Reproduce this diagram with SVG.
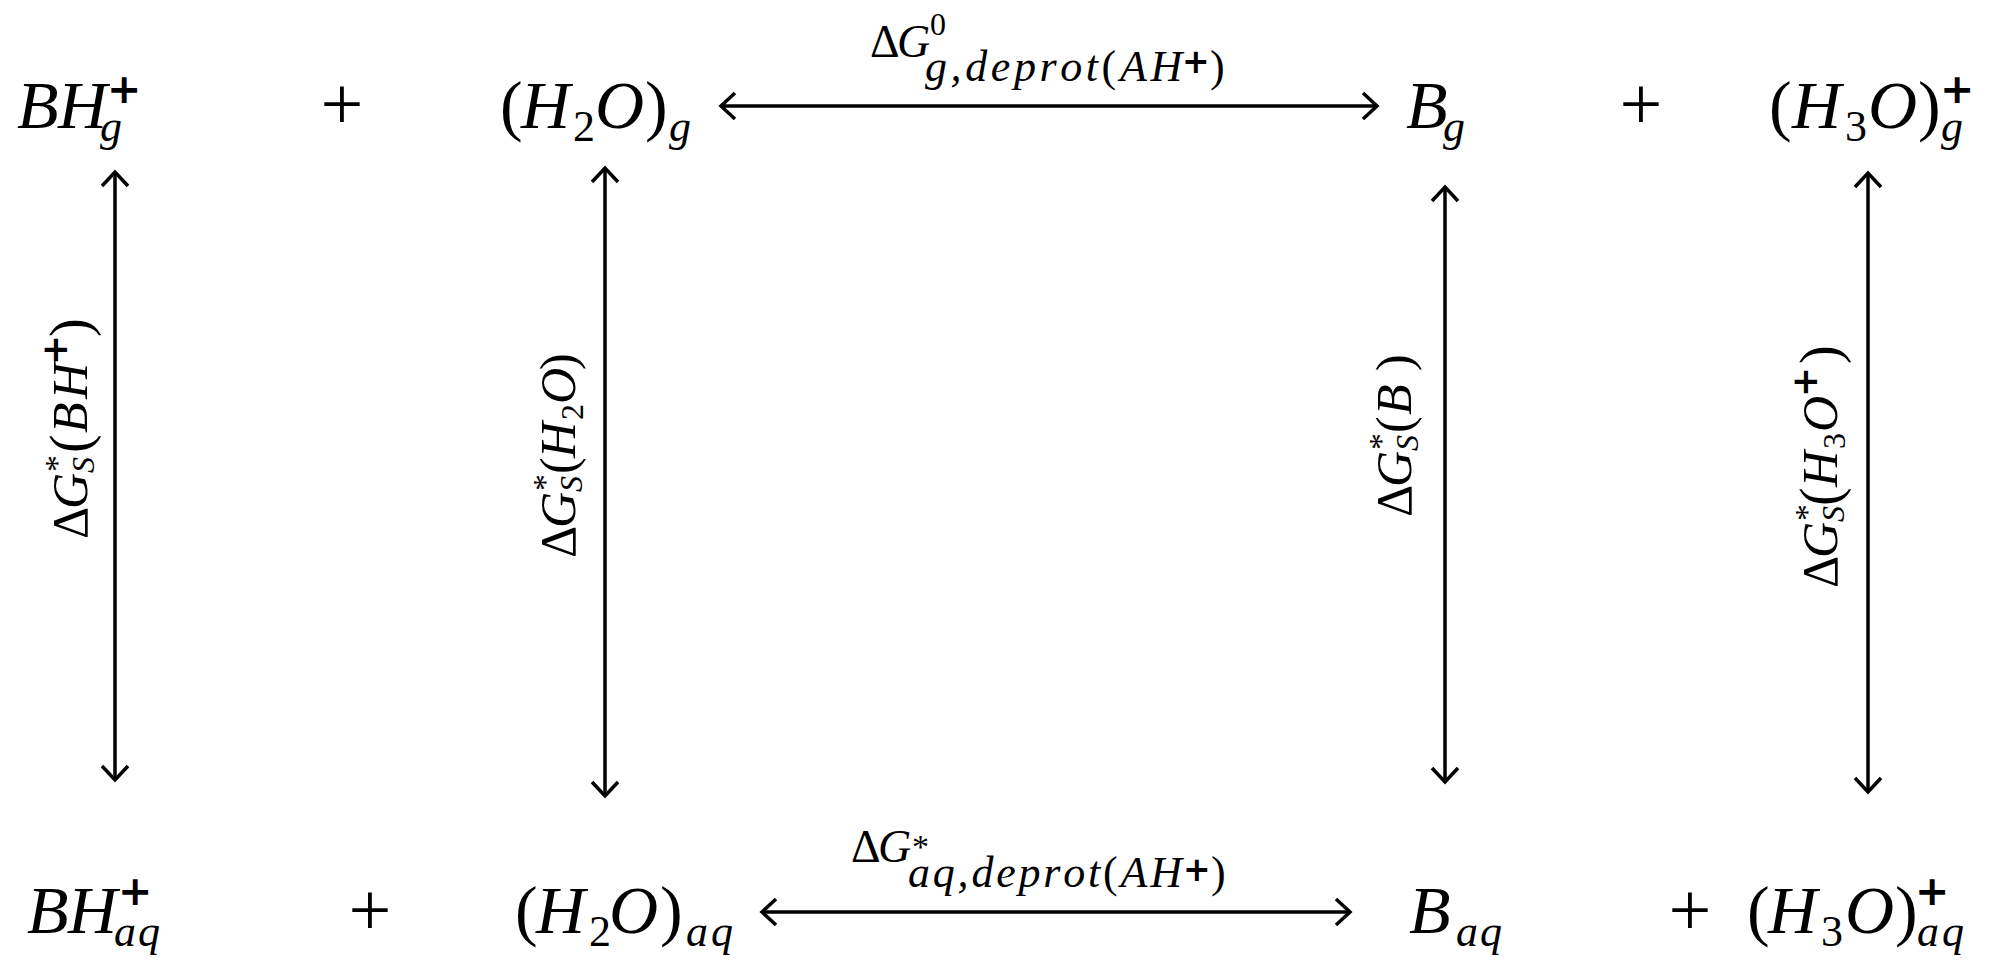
<svg xmlns="http://www.w3.org/2000/svg" width="2000" height="979" viewBox="0 0 2000 979">
<style>
.t{font-family:"Liberation Serif","Times New Roman",serif;fill:#000}
.i{font-style:italic}
.m{font-size:68px}
.s{font-size:44px}
.p{font-family:"DejaVu Sans",sans-serif;font-size:41px;font-weight:bold}
.big{font-size:76px}
.l{font-size:46px}
.ls{font-size:44px}
.lz{font-size:32px}
.la{font-size:34px}
.lp{font-family:"DejaVu Sans",sans-serif;font-size:33px;font-weight:bold}
.r{font-size:50px}
.rb{font-size:56px}
.rs{font-size:32px}
.rp{font-family:"DejaVu Sans",sans-serif;font-size:36px;font-weight:bold}
.ar{fill:none;stroke:#000;stroke-width:3.5}
</style>
<defs>
<marker id="ah" viewBox="-16 -15 19 30" refX="0" refY="0" markerWidth="19" markerHeight="30" markerUnits="userSpaceOnUse" orient="auto-start-reverse">
<path d="M-14,-13 L0,0 L-14,13" fill="none" stroke="#000" stroke-width="3.5" stroke-linejoin="miter"/>
</marker>
</defs>
<rect width="2000" height="979" fill="#fff"/>

<g id="BHg"><text class="t"><tspan class="i m" x="17 58" y="128">BH</tspan><tspan class="i s" x="100" y="141">g</tspan><tspan class="p" x="107" y="103">+</tspan></text></g>
<g id="plus1"><text class="t big" x="342" y="129" text-anchor="middle">+</text></g>
<g id="H2Og"><text class="t"><tspan class="m" x="500" y="128">(</tspan><tspan class="i m" x="521" y="128">H</tspan><tspan class="s" x="573" y="141">2</tspan><tspan class="i m" x="595" y="128">O</tspan><tspan class="m" x="645" y="128">)</tspan><tspan class="i s" x="669" y="141">g</tspan></text></g>
<g id="Bg"><text class="t"><tspan class="i m" x="1406" y="128">B</tspan><tspan class="i s" x="1443" y="141">g</tspan></text></g>
<g id="plus2"><text class="t big" x="1641" y="129" text-anchor="middle">+</text></g>
<g id="H3Og"><text class="t"><tspan class="m" x="1769" y="128">(</tspan><tspan class="i m" x="1792" y="128">H</tspan><tspan class="s" x="1845" y="141">3</tspan><tspan class="i m" x="1868" y="128">O</tspan><tspan class="m" x="1918" y="128">)</tspan><tspan class="i s" x="1941" y="141">g</tspan><tspan class="p" x="1940" y="103">+</tspan></text></g>

<g id="BHaq"><text class="t"><tspan class="i m" x="27 68" y="933">BH</tspan><tspan class="i s" x="114 138" y="946">aq</tspan><tspan class="p" x="118" y="905">+</tspan></text></g>
<g id="plus3"><text class="t big" x="370" y="935" text-anchor="middle">+</text></g>
<g id="H2Oaq"><text class="t"><tspan class="m" x="515" y="933">(</tspan><tspan class="i m" x="536" y="933">H</tspan><tspan class="s" x="589" y="946">2</tspan><tspan class="i m" x="609" y="933">O</tspan><tspan class="m" x="660" y="933">)</tspan><tspan class="i s" x="686 711" y="946">aq</tspan></text></g>
<g id="Baq"><text class="t"><tspan class="i m" x="1409" y="933">B</tspan><tspan class="i s" x="1456 1480" y="946">aq</tspan></text></g>
<g id="plus4"><text class="t big" x="1690" y="935" text-anchor="middle">+</text></g>
<g id="H3Oaq"><text class="t"><tspan class="m" x="1747" y="933">(</tspan><tspan class="i m" x="1768" y="933">H</tspan><tspan class="s" x="1821" y="946">3</tspan><tspan class="i m" x="1845" y="933">O</tspan><tspan class="m" x="1895" y="933">)</tspan><tspan class="i s" x="1917 1942" y="946">aq</tspan><tspan class="p" x="1915" y="905">+</tspan></text></g>

<g id="connectors">
<g id="c-top">
<path class="ar" d="M721,106 H1377" marker-start="url(#ah)" marker-end="url(#ah)"/>
<text class="t"><tspan class="l" x="870" y="57">Δ</tspan><tspan class="l i" x="897" y="57">G</tspan><tspan class="lz" x="930" y="35">0</tspan><tspan class="ls i" x="925 950.6 965.2 990.8 1013.9 1039.5 1060.2 1085.8" y="81">g,deprot</tspan><tspan class="ls" x="1101.6" y="81">(</tspan><tspan class="ls i" x="1119.9 1150.4" y="81">AH</tspan><tspan class="lp" x="1182" y="73">+</tspan><tspan class="ls" x="1210" y="81">)</tspan></text>
</g>
<g id="c-bottom">
<path class="ar" d="M762,912 H1350" marker-start="url(#ah)" marker-end="url(#ah)"/>
<text class="t"><tspan class="l" x="851" y="862">Δ</tspan><tspan class="l i" x="878" y="862">G</tspan><tspan class="la" x="912" y="858">*</tspan><tspan class="ls i" x="908 932.8 957.6 971.4 996.2 1018.5 1043.3 1063.2 1088" y="887">aq,deprot</tspan><tspan class="ls" x="1103" y="887">(</tspan><tspan class="ls i" x="1120.5 1150.2" y="887">AH</tspan><tspan class="lp" x="1183" y="881">+</tspan><tspan class="ls" x="1211" y="887">)</tspan></text>
</g>
<g id="c-BH">
<path class="ar" d="M115,172 V780" marker-start="url(#ah)" marker-end="url(#ah)"/>
<text class="t" transform="translate(87,539) rotate(-90)"><tspan class="r" x="0" y="0">Δ</tspan><tspan class="r i" x="30" y="0">G</tspan><tspan class="rs i" x="66" y="7">S</tspan><tspan class="la" x="67" y="-19">*</tspan><tspan class="rb" x="86" y="2">(</tspan><tspan class="r i" x="106 140" y="0">BH</tspan><tspan class="rp" x="174" y="-20">+</tspan><tspan class="rb" x="202" y="2">)</tspan></text>
</g>
<g id="c-H2O">
<path class="ar" d="M605,168 V796" marker-start="url(#ah)" marker-end="url(#ah)"/>
<text class="t" transform="translate(575,558) rotate(-90)"><tspan class="r" x="0" y="0">Δ</tspan><tspan class="r i" x="30" y="0">G</tspan><tspan class="rs i" x="66" y="7">S</tspan><tspan class="la" x="67" y="-19">*</tspan><tspan class="r" x="84" y="0">(</tspan><tspan class="r i" x="100" y="0">H</tspan><tspan class="rs" x="138" y="8">2</tspan><tspan class="r i" x="154" y="0">O</tspan><tspan class="r" x="188" y="0">)</tspan></text>
</g>
<g id="c-B">
<path class="ar" d="M1445,187 V782" marker-start="url(#ah)" marker-end="url(#ah)"/>
<text class="t" transform="translate(1411,517) rotate(-90)"><tspan class="r" x="0" y="0">Δ</tspan><tspan class="r i" x="30" y="0">G</tspan><tspan class="rs i" x="66" y="7">S</tspan><tspan class="la" x="67" y="-19">*</tspan><tspan class="r" x="84" y="0">(</tspan><tspan class="r i" x="102" y="0">B</tspan><tspan class="r" x="146" y="0">)</tspan></text>
</g>
<g id="c-H3O">
<path class="ar" d="M1868,173 V792" marker-start="url(#ah)" marker-end="url(#ah)"/>
<text class="t" transform="translate(1837,588) rotate(-90)"><tspan class="r" x="0" y="0">Δ</tspan><tspan class="r i" x="30" y="0">G</tspan><tspan class="rs i" x="66" y="7">S</tspan><tspan class="la" x="67" y="-19">*</tspan><tspan class="rb" x="82" y="2">(</tspan><tspan class="r i" x="101" y="0">H</tspan><tspan class="rs" x="139" y="8">3</tspan><tspan class="r i" x="156" y="0">O</tspan><tspan class="rp" x="191" y="-20">+</tspan><tspan class="rb" x="224" y="2">)</tspan></text>
</g>
</g>
</svg>
